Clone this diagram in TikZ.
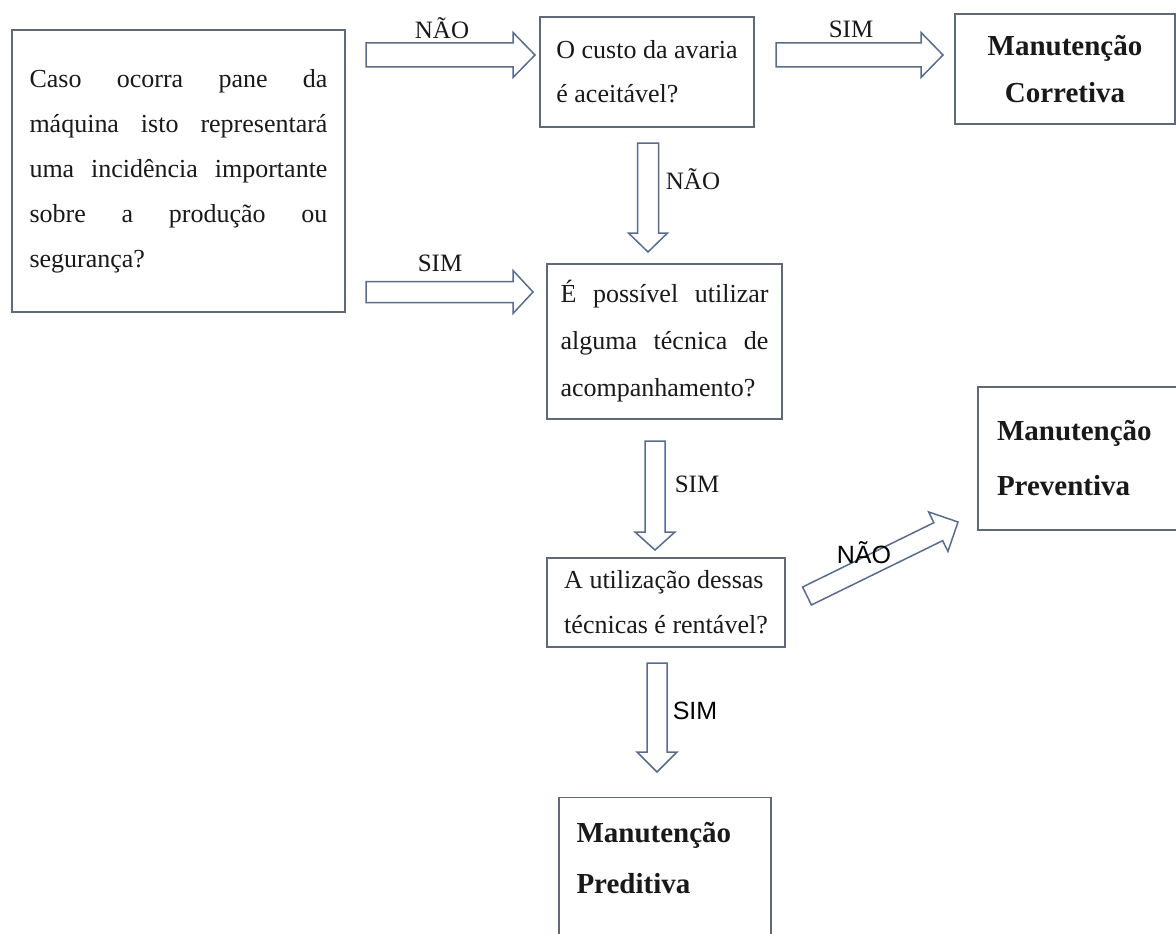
\documentclass[tikz,border=0pt]{standalone}
\usepackage{fontspec}
\setmainfont{Liberation Serif}
\newfontfamily\arialfont{Liberation Sans}
\usetikzlibrary{calc}
\definecolor{boxline}{RGB}{95,105,120}
\definecolor{arrline}{RGB}{88,108,140}
\definecolor{ink}{RGB}{25,25,25}
% block arrow: start, end, shaft half width, head half width, head length
\newcommand\blkarrow[5]{%
  \coordinate (hb) at ($(#2)!#5pt!(#1)$);
  \draw[blk] ($(#1)!#3pt!90:(#2)$) -- ($(hb)!#3pt!-90:(#1)$) -- ($(hb)!#4pt!-90:(#1)$) -- (#2)
    -- ($(hb)!#4pt!90:(#1)$) -- ($(hb)!#3pt!90:(#1)$) -- ($(#1)!#3pt!-90:(#2)$) -- cycle;
}
\begin{document}
\begin{tikzpicture}[x=1pt,y=-1pt,
  blk/.style={draw=arrline, line width=1.5pt, fill=white, line join=miter},
  box/.style={draw=boxline, line width=1.4pt, fill=white, inner sep=0pt},
  rtext/.style={font=\fontsize{26pt}{45pt}\selectfont, text=ink},
  btext/.style={font=\bfseries\fontsize{29pt}{50pt}\selectfont, text=ink},
  lbl/.style={font=\fontsize{25pt}{30pt}\selectfont, text=ink, inner sep=0pt},
  slbl/.style={font=\arialfont\fontsize{25pt}{30pt}\selectfont, text=black, inner sep=0pt}]
\clip (0,0) rectangle (1176,934);
\fill[white] (0,0) rectangle (1176,934);

% boxes
\node[box, rtext, minimum width=333pt, minimum height=282pt, align=left] (q1) at (178.5,171)
  {\makebox[298pt][s]{Caso ocorra pane da}\\
   \makebox[298pt][s]{máquina isto representará}\\
   \makebox[298pt][s]{uma incidência importante}\\
   \makebox[298pt][s]{sobre a produção ou}\\
   segurança?};
\node[box, rtext, font=\fontsize{26pt}{44pt}\selectfont, minimum width=214pt, minimum height=110pt, align=left] (q2) at (647,72)
  {O custo da avaria\\é aceitável?};
\node[box, btext, font=\bfseries\fontsize{29pt}{47pt}\selectfont, minimum width=220pt, minimum height=110pt, align=center] (mc) at (1065,69)
  {Manutenção\\Corretiva};
\node[box, rtext, font=\fontsize{26pt}{47pt}\selectfont, minimum width=235pt, minimum height=155pt, align=left] (q3) at (664.5,341.5)
  {\makebox[208pt][s]{É possível utilizar}\\
   \makebox[208pt][s]{alguma técnica de}\\
   acompanhamento?};
\node[box, rtext, font=\fontsize{26pt}{45pt}\selectfont, minimum width=238pt, minimum height=89pt, align=left] (q4) at (666,602.5)
  {A utilização dessas\\técnicas é rentável?};
\node[box, btext, font=\bfseries\fontsize{29pt}{55pt}\selectfont, minimum width=212pt, minimum height=143pt, text width=174pt, align=left] (mpv) at (1084,458.5)
  {Manutenção\\Preventiva};
\node[box, minimum width=212pt, minimum height=170pt, anchor=north] (mpd) at (665,797) {};
\node[btext, font=\bfseries\fontsize{29pt}{51pt}\selectfont, anchor=north west, align=left, inner sep=0pt] (mpdt)
  at ($(mpd.north west)+(18,25)$) {Manutenção\\Preditiva};

% arrow end points
\coordinate (a1s) at (366,55);  \coordinate (a1e) at (535,55);
\coordinate (a2s) at (776,55);  \coordinate (a2e) at (943,55);
\coordinate (a3s) at (648,143); \coordinate (a3e) at (648,252);
\coordinate (a4s) at (366,292); \coordinate (a4e) at (533,292);
\coordinate (a5s) at (655,441); \coordinate (a5e) at (655,550);
\coordinate (a6s) at (807,596); \coordinate (a6e) at (958,522);
\coordinate (a7s) at (657,663); \coordinate (a7e) at (657,772);

\blkarrow{a1s}{a1e}{12}{22.5}{22}
\blkarrow{a2s}{a2e}{12}{22.5}{22}
\blkarrow{a3s}{a3e}{10.5}{19.5}{19}
\blkarrow{a4s}{a4e}{10.5}{21.5}{20}
\blkarrow{a5s}{a5e}{10}{20}{18}
\blkarrow{a6s}{a6e}{10}{22}{22}
\blkarrow{a7s}{a7e}{10}{20}{20}

% labels
\node[lbl] (l1) at (442,28) {NÃO};
\node[lbl] (l2) at (851,29) {SIM};
\node[lbl] (l3) at (693,179) {NÃO};
\node[lbl] (l4) at (440,263) {SIM};
\node[lbl] (l5) at (697,484) {SIM};
\node[slbl] (l6) at (864,553) {NÃO};
\node[slbl] (l7) at (695,711) {SIM};
\end{tikzpicture}
\end{document}
